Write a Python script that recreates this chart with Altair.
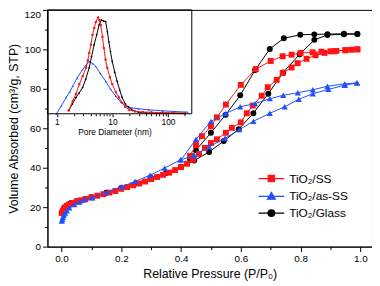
import altair as alt
import pandas as pd

SERIES = ["TiO₂/SS", "TiO₂/as-SS", "TiO₂/Glass"]
COLORS = ["#ff1414", "#1f4fff", "#000000"]

# ---- main isotherm data (relative pressure, volume adsorbed) ----
ss_ads_x = [0.001, 0.004, 0.008, 0.012, 0.018, 0.025, 0.035, 0.05, 0.065, 0.08, 0.1, 0.12, 0.14, 0.16, 0.18,
            0.2, 0.22, 0.24, 0.26, 0.28, 0.3, 0.32, 0.34, 0.36, 0.38, 0.4, 0.42, 0.44, 0.46, 0.48, 0.5, 0.52,
            0.55, 0.57, 0.6, 0.62, 0.64, 0.67, 0.69, 0.72, 0.74, 0.77, 0.79, 0.82, 0.85, 0.88, 0.91, 0.95, 0.99]
ss_ads_y = [17.0, 18.0, 19.0, 19.8, 20.6, 21.3, 22.0, 22.8, 23.5, 24.1, 25.0, 25.8, 26.6, 27.4, 28.2,
            29.3, 30.2, 31.1, 32.0, 33.0, 34.2, 35.3, 36.4, 37.5, 38.8, 40.3, 42.0, 44.0, 47.0, 50.0, 52.5, 54.4,
            57.7, 60.2, 63.0, 67.6, 71.5, 76.5, 80.8, 84.5, 88.0, 90.8, 93.0, 95.2, 97.0, 98.2, 99.0, 99.5, 100.0]
ss_des_x = [0.99, 0.97, 0.95, 0.92, 0.9, 0.87, 0.84, 0.8, 0.77, 0.74, 0.7, 0.65, 0.6, 0.55, 0.52, 0.5, 0.47, 0.45, 0.43]
ss_des_y = [100.0, 99.8, 99.6, 99.2, 99.0, 98.8, 98.5, 98.2, 97.3, 96.5, 94.1, 90.0, 82.0, 72.0, 65.5, 61.0, 56.0, 51.5, 46.0]

as_ads_x = [0.001, 0.003, 0.005, 0.008, 0.012, 0.018, 0.026, 0.043, 0.06, 0.076, 0.103, 0.153, 0.202, 0.246,
            0.296, 0.345, 0.398, 0.444, 0.494, 0.547, 0.595, 0.642, 0.697, 0.747, 0.794, 0.841, 0.893, 0.948, 0.989]
as_ads_y = [13.0, 14.0, 15.0, 16.0, 17.0, 18.2, 19.7, 21.3, 22.6, 23.8, 24.8, 27.6, 30.4, 33.0,
            36.2, 39.8, 44.0, 46.1, 50.6, 54.9, 59.3, 63.5, 67.6, 70.9, 74.7, 77.5, 79.7, 81.8, 83.0]
as_des_x = [0.989, 0.948, 0.89, 0.841, 0.791, 0.742, 0.697, 0.648, 0.598, 0.55, 0.5, 0.45, 0.4]
as_des_y = [83.0, 82.5, 81.3, 79.5, 78.0, 76.7, 75.0, 72.5, 70.9, 67.5, 63.5, 54.4, 44.0]

gl_ads_x = [0.001, 0.005, 0.01, 0.02, 0.03, 0.05, 0.08, 0.1, 0.15, 0.2, 0.25, 0.3, 0.35, 0.4, 0.444, 0.494,
            0.543, 0.593, 0.642, 0.692, 0.742, 0.797, 0.846, 0.89, 0.945, 0.99]
gl_ads_y = [17.0, 18.5, 19.8, 21.0, 22.0, 23.0, 24.0, 25.0, 27.3, 29.7, 32.3, 34.8, 37.3, 40.5, 43.6, 48.0,
            53.5, 59.5, 67.6, 77.5, 88.3, 97.5, 104.8, 107.3, 107.6, 107.8]
gl_des_x = [0.99, 0.945, 0.89, 0.846, 0.799, 0.744, 0.697, 0.648, 0.598, 0.549, 0.5, 0.45, 0.43]
gl_des_y = [107.8, 107.9, 107.7, 107.6, 107.4, 105.6, 100.2, 89.5, 76.7, 66.8, 57.7, 48.9, 44.5]

# ---- inset: pore size distribution (diameter nm, arbitrary units) ----
ss_d = [1.63, 1.93, 2.2, 2.53, 2.9, 3.33, 3.6, 3.81, 4.1, 4.37, 4.7, 5.0, 5.5, 5.8, 6.15, 6.6, 7.0, 7.5,
        8.05, 9.0, 9.9, 11.5, 13, 15, 17, 20, 25.7, 35, 50, 80, 120, 200]
ss_v = [3.3, 13, 20, 30, 38, 46.6, 54, 61.6, 70, 80, 87, 93, 97.6, 95, 90, 78, 66.6, 55,
        46.6, 37, 30, 22, 16.6, 11, 7, 4, 2.3, 1.8, 1.5, 1.2, 1.0, 0.8]
gl_d = [1.63, 1.9, 2.21, 2.5, 2.9, 3.3, 3.81, 4.2, 4.67, 5.2, 5.74, 6.3, 6.9, 7.55, 8.1, 8.6, 9.2, 9.9,
        11, 12.1, 13.5, 14.9, 17, 19.5, 23, 29.4, 40, 60, 100, 200]
gl_v = [3.3, 10, 16.6, 21, 26.6, 35, 46.6, 58, 70, 80, 90, 95, 94, 93.3, 83, 73, 63, 53,
        42, 33, 24, 16.6, 10, 6.6, 3.5, 1.6, 0.8, 0.5, 0.3, 0.2]
as_d = [0.98, 1.2, 1.47, 1.7, 1.93, 2.3, 2.9, 3.3, 3.81, 4.4, 5.0, 6.0, 7.55, 9.2, 11.4, 14, 17, 22,
        29.4, 45, 80, 130, 226]
as_v = [0, 8, 16.6, 22, 28, 36, 45, 49, 53, 51, 48, 41, 33, 25, 18, 12, 8, 6,
        5, 4, 3, 2.3, 1.6]

X_TICKS = [0.0, 0.1, 0.2, 0.3, 0.4, 0.5, 0.6, 0.7, 0.8, 0.9, 1.0]
Y_TICKS = [0, 10, 20, 30, 40, 50, 60, 70, 80, 90, 100, 110, 120]
INSET_TICKS = [1, 2, 3, 4, 5, 6, 7, 8, 9, 10, 20, 30, 40, 50, 60, 70, 80, 90, 100, 200]
INSET_X_DOMAIN = [0.675, 471000]
INSET_Y_DOMAIN = [-134.7, 105.3]
INSET_BOX_X = [0.675, 268]
INSET_BOX_Y = [0, 105.3]

FONT = "Liberation Sans"

rows = []
for name, br, xs, ys in [(SERIES[0], "a", ss_ads_x, ss_ads_y), (SERIES[0], "d", ss_des_x, ss_des_y),
                         (SERIES[1], "a", as_ads_x, as_ads_y), (SERIES[1], "d", as_des_x, as_des_y),
                         (SERIES[2], "a", gl_ads_x, gl_ads_y), (SERIES[2], "d", gl_des_x, gl_des_y)]:
    for i, (x, y) in enumerate(zip(xs, ys)):
        rows.append({"series": name, "branch": br, "order": i, "x": x, "y": y})
main_df = pd.DataFrame(rows)

irows = []
for name, ds, vs in [(SERIES[0], ss_d, ss_v), (SERIES[1], as_d, as_v), (SERIES[2], gl_d, gl_v)]:
    for i, (d, v) in enumerate(zip(ds, vs)):
        irows.append({"series": name, "order": i, "d": d, "v": v})
inset_df = pd.DataFrame(irows)
box_df = pd.DataFrame([{"d": INSET_BOX_X[0], "d2": INSET_BOX_X[1], "v": INSET_BOX_Y[0], "v2": INSET_BOX_Y[1]}])

xs_main = alt.Scale(domain=[-0.047, 1.039], nice=False, zero=False)
ys_main = alt.Scale(domain=[0, 120], nice=False, zero=False)

x_axis = alt.Axis(values=X_TICKS, format=".1f", grid=False,
                  labelExpr="round(datum.value*10)%2==0 ? datum.label : ''",
                  tickSize={"condition": {"test": "round(datum.value*10)%2==0", "value": 5}, "value": 3},
                  labelPadding=2, title="Relative Pressure (P/P₀)", titlePadding=4)
y_axis = alt.Axis(values=Y_TICKS, grid=False,
                  labelExpr="datum.value%20==0 ? datum.label : ''",
                  tickSize={"condition": {"test": "datum.value%20==0", "value": 5}, "value": 3},
                  labelBaseline={"condition": {"test": "datum.value==120", "value": "top"}, "value": "middle"},
                  labelPadding=2, title="Volume Absorbed (cm³/g, STP)", titlePadding=4)

X = alt.X("x:Q", scale=xs_main, axis=x_axis)
Y = alt.Y("y:Q", scale=ys_main, axis=y_axis)

base = alt.Chart(main_df)
layers = []
for idx, kind in [(2, "circle"), (0, "square"), (1, "triangle-up")]:
    sub = base.transform_filter(alt.datum.series == SERIES[idx])
    col = COLORS[idx]
    layers.append(sub.mark_line(strokeWidth=1, color=col).encode(x=X, y=Y, detail="branch:N", order="order:Q"))
    size = 40 if kind == "triangle-up" else 36
    layers.append(sub.mark_point(filled=True, shape=kind, size=size, opacity=1, color=col).encode(x=X, y=Y))

# legend source (no marks drawn): line segment + marker symbols
sq = "M-2.6,0L2.6,0M-0.64,-0.64L0.64,-0.64L0.64,0.64L-0.64,0.64Z"
tri = "M-2.6,0L2.6,0M0,-0.8L0.8,0.58L-0.8,0.58Z"
circ = "M-2.6,0L2.6,0M0.68,0A0.68,0.68,0,1,1,-0.68,0A0.68,0.68,0,1,1,0.68,0Z"
leg = alt.Legend(orient="none", legendX=221, legendY=165, title=None, padding=0,
                 labelFont=FONT, labelFontSize=12, labelColor="black", labelOffset=12,
                 labelFontWeight="normal",
                 symbolSize=100, symbolStrokeWidth=1.2, rowPadding=5)
legend_layer = base.transform_filter("false").mark_point(filled=True, opacity=1).encode(
    x=X, y=Y,
    color=alt.Color("series:N", scale=alt.Scale(domain=SERIES, range=COLORS), legend=leg),
    stroke=alt.Stroke("series:N", scale=alt.Scale(domain=SERIES, range=COLORS), legend=leg),
    shape=alt.Shape("series:N", scale=alt.Scale(domain=SERIES, range=[sq, tri, circ]), legend=leg),
)
main = alt.layer(*layers, legend_layer)

# ---- inset ----
ix_axis = alt.Axis(orient="bottom", offset=-134.7, values=INSET_TICKS, grid=False, domain=False,
                   labelExpr="(datum.value==1||datum.value==10||datum.value==100) ? datum.label : ''",
                   tickSize={"condition": {"test": "datum.value==1||datum.value==10||datum.value==100", "value": 3}, "value": 2},
                   labelFontSize=8.5, labelPadding=1, labelFlush=False,
                   title="Pore Diameter (nm)", titleFontSize=8.5, titleX=68, titleY=18,
                   titleBaseline="middle", titleAlign="center")
IX = alt.X("d:Q", scale=alt.Scale(type="log", domain=INSET_X_DOMAIN, nice=False, zero=False), axis=ix_axis)
IY = alt.Y("v:Q", scale=alt.Scale(domain=INSET_Y_DOMAIN, nice=False, zero=False), axis=None)
ibase = alt.Chart(inset_df)
ilayers = []
for idx, kind in [(1, "triangle-up"), (2, "diamond"), (0, "square")]:
    sub = ibase.transform_filter(alt.datum.series == SERIES[idx])
    col = COLORS[idx]
    ilayers.append(sub.mark_line(strokeWidth=1, color=col).encode(x=IX, y=IY, order="order:Q"))
    ilayers.append(sub.mark_point(filled=True, shape=kind, size=5, opacity=1, color=col).encode(x=IX, y=IY))
box = alt.Chart(box_df).mark_rect(filled=False, stroke="black", strokeWidth=1).encode(
    x=IX, x2="d2:Q", y=IY, y2="v2:Q")
inset = alt.layer(*ilayers, box)

chart = alt.layer(main, inset).resolve_scale(x="independent", y="independent").properties(
    width=329, height=240, autosize=alt.AutoSizeParams(type="none"),
    padding={"left": 40, "top": 0, "right": 0, "bottom": 38}
).configure(font=FONT).configure_view(stroke="black", strokeWidth=1).configure_axis(
    labelFont=FONT, labelFontSize=10, labelColor="black", titleFont=FONT, titleFontSize=12.5,
    titleFontWeight="normal", titleColor="black", tickColor="black", domainColor="black",
    domainWidth=1, tickWidth=1
)

chart.save("out.html", embed_options={"renderer": "svg", "actions": False})
